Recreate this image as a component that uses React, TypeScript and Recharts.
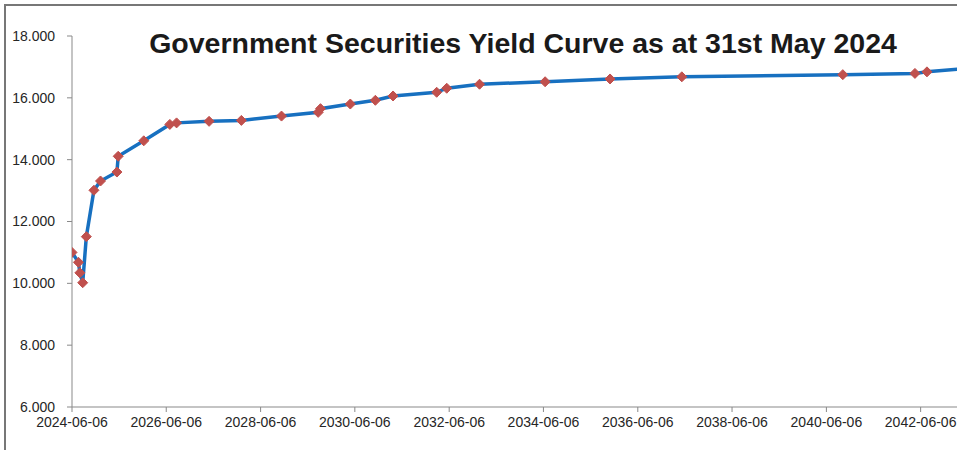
import React from 'react';
import { LineChart, Line, XAxis, YAxis } from 'recharts';

// maturity dates and yields (%)
const maturities = [
  '2024-06-06', '2024-07-26', '2024-08-06', '2024-08-28', '2024-09-25', '2024-11-23',
  '2025-01-13', '2025-05-20', '2025-05-30', '2025-12-14', '2026-07-04', '2026-08-25',
  '2027-05-04', '2028-01-09', '2028-11-15', '2029-08-26', '2029-09-13', '2030-05-02',
  '2030-11-12', '2031-03-29', '2032-03-01', '2032-05-18', '2033-01-27', '2034-06-19',
  '2035-11-04', '2037-05-13', '2040-10-11', '2042-04-23', '2042-07-25', '2044-02-15',
];
const yields = [
  11.0, 10.68, 10.34, 10.02, 11.51, 13.01,
  13.31, 13.6, 14.11, 14.61, 15.14, 15.19,
  15.24, 15.27, 15.41, 15.53, 15.65, 15.8,
  15.92, 16.06, 16.18, 16.31, 16.44, 16.52,
  16.61, 16.68, 16.75, 16.79, 16.84, 17.04,
];
const xTickDates = [
  '2024-06-06', '2026-06-06', '2028-06-06', '2030-06-06', '2032-06-06',
  '2034-06-06', '2036-06-06', '2038-06-06', '2040-06-06', '2042-06-06',
];
const xDomainDates = ['2024-06-06', '2044-06-06'];
const yTicks = [6, 8, 10, 12, 14, 16, 18];

const data = maturities.map((d, i) => ({ t: Date.parse(d), y: yields[i] }));

const fmtDate = (v: number) => new Date(v).toISOString().slice(0, 10);

const Diamond = (props: any) => {
  const { cx, cy, index } = props;
  if (cx == null || cy == null) return <g key={index} />;
  const r = 5;
  return (
    <path
      key={index}
      d={`M${cx},${cy - r}L${cx + r},${cy}L${cx},${cy + r}L${cx - r},${cy}Z`}
      fill="#C0504D"
      stroke="#C0504D"
      strokeWidth={1}
    />
  );
};

export default function App() {
  const tickStyle = { fontSize: 14, fill: '#262626', fontFamily: '"Liberation Sans", Arial, sans-serif' };
  return (
    <div style={{ position: 'absolute', left: 0, top: 0, width: 957, height: 450, overflow: 'hidden', background: '#fff' }}>
      <div style={{ position: 'absolute', left: 4, top: 4, width: 1036, height: 456, border: '2px solid #777' }}>
        <LineChart width={1036} height={456} data={data} margin={{ top: 30, right: 27, bottom: 25, left: 0 }}>
          <XAxis
            dataKey="t"
            type="number"
            scale="time"
            domain={xDomainDates.map(d => Date.parse(d))}
            ticks={xTickDates.map(d => Date.parse(d))}
            tickFormatter={fmtDate}
            tick={tickStyle}
            stroke="#898989"
            tickSize={5}
            tickMargin={5}
            height={30}
            interval={0}
            allowDataOverflow
          />
          <YAxis
            type="number"
            domain={[6, 18]}
            ticks={yTicks}
            tickFormatter={v => v.toFixed(3)}
            tick={tickStyle}
            stroke="#898989"
            tickSize={5}
            tickMargin={12}
            width={66}
            interval={0}
          />
          <Line
            dataKey="y"
            type="linear"
            stroke="#1770C0"
            strokeWidth={3.5}
            dot={Diamond}
            activeDot={false}
            isAnimationActive={false}
          />
        </LineChart>
      </div>
      <div
        style={{
          position: 'absolute',
          left: 0,
          top: 29,
          width: 1046,
          textAlign: 'center',
          fontFamily: '"Liberation Sans", Arial, sans-serif',
          fontWeight: 'bold',
          fontSize: 28.5,
          lineHeight: '29px',
          color: '#1a1a1a',
          whiteSpace: 'nowrap',
        }}
      >
        Government Securities Yield Curve as at 31st May 2024
      </div>
    </div>
  );
}
